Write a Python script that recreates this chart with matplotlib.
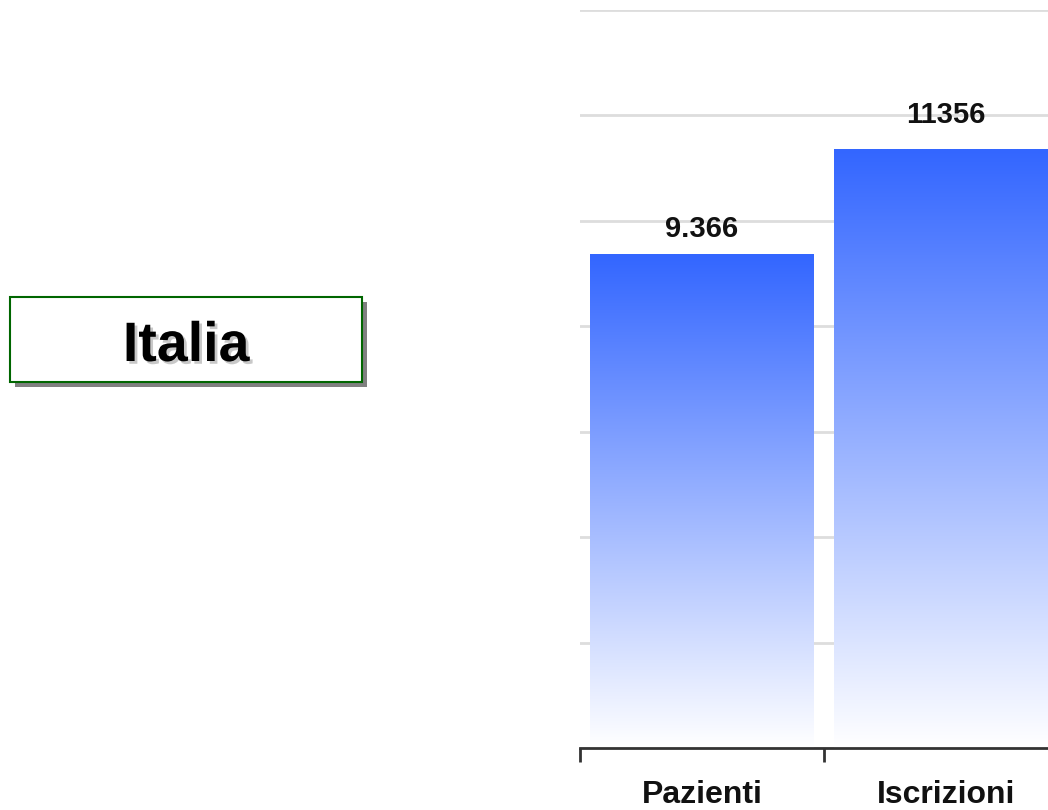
import matplotlib
matplotlib.use("Agg")
import matplotlib.pyplot as plt
import numpy as np
from matplotlib.patches import Rectangle
from matplotlib.colors import LinearSegmentedColormap
import matplotlib.patheffects as pe

categories = ["Pazienti", "Iscrizioni"]
values = [9366, 11356]
value_labels = ["9.366", "11356"]
title_text = "Italia"

W, H = 1048, 810
fig = plt.figure(figsize=(W / 100, H / 100), dpi=100)
plt.rcParams['font.family'] = ['Liberation Sans', 'DejaVu Sans']

def fx(px):
    return px / W

def fy(py):
    return 1 - py / H

ax_left, ax_right, ax_top, ax_bottom = 580, 1068, 10, 748
ax = fig.add_axes([fx(ax_left), fy(ax_bottom), fx(ax_right - ax_left), (ax_bottom - ax_top) / H])
ax.set_xlim(-0.5, len(categories) - 0.5)
ax.set_ylim(0, 14000)

ax.set_yticks(np.arange(0, 14001, 2000))
ax.yaxis.grid(True, color="#dddddd", linewidth=2)
ax.set_axisbelow(True)
ax.tick_params(axis='y', length=0, labelleft=False)
for s in ['left', 'right', 'top']:
    ax.spines[s].set_visible(False)
ax.spines['bottom'].set_color("#333333")
ax.spines['bottom'].set_linewidth(2)

ax.set_xticks(np.arange(-0.5, len(categories) + 0.5, 1))
ax.set_xticklabels([])
ax.tick_params(axis='x', length=10, width=2, color="#333333", direction='out')
for i, c in enumerate(categories):
    ax.annotate(c, (i, 0), xycoords=('data', 'axes fraction'), xytext=(0, -(780 - 748) * 0.72),
                textcoords='offset points', ha='center', va='top',
                fontsize=23, fontweight='bold', color='#111111', annotation_clip=False)

cmap = LinearSegmentedColormap.from_list("g", ["#ffffff", "#3366ff"])
grad = np.linspace(0, 1, 256).reshape(-1, 1)
bars = ax.bar(range(len(categories)), values, width=0.914, color='none', edgecolor='none')
for b in bars:
    x0, w, h = b.get_x(), b.get_width(), b.get_height()
    im = ax.imshow(grad, extent=[x0, x0 + w, 0, h], origin='lower', cmap=cmap,
                   aspect='auto', zorder=2, interpolation='bilinear')
    im.set_clip_path(b)
ax.set_xlim(-0.5, len(categories) - 0.5)
ax.set_ylim(0, 14000)

offsets = [17, 26]
for i, (v, lab) in enumerate(zip(values, value_labels)):
    ax.annotate(lab, (i, v), xytext=(0, offsets[i] * 0.72), textcoords='offset points',
                ha='center', va='baseline', fontsize=21, fontweight='bold', color='#111111')

# Title box
bx0, by0, bx1, by1 = 10, 297, 362, 382
fig.patches.append(Rectangle((fx(bx0 + 5), fy(by1 + 5)), fx(bx1 - bx0), (by1 - by0) / H,
                             transform=fig.transFigure, facecolor='#808080', edgecolor='none', zorder=1))
fig.patches.append(Rectangle((fx(bx0), fy(by1)), fx(bx1 - bx0), (by1 - by0) / H,
                             transform=fig.transFigure, facecolor='white', edgecolor='#006600',
                             linewidth=1.5, zorder=2))
fig.text(fx((bx0 + bx1) / 2), fy(361), title_text, ha='center', va='baseline',
         fontsize=40, fontweight='bold', color='black', zorder=3,
         path_effects=[pe.withSimplePatchShadow(offset=(2, -2), shadow_rgbFace='#bbbbbb', alpha=0.8)])

fig.savefig("out.png", dpi=100)
